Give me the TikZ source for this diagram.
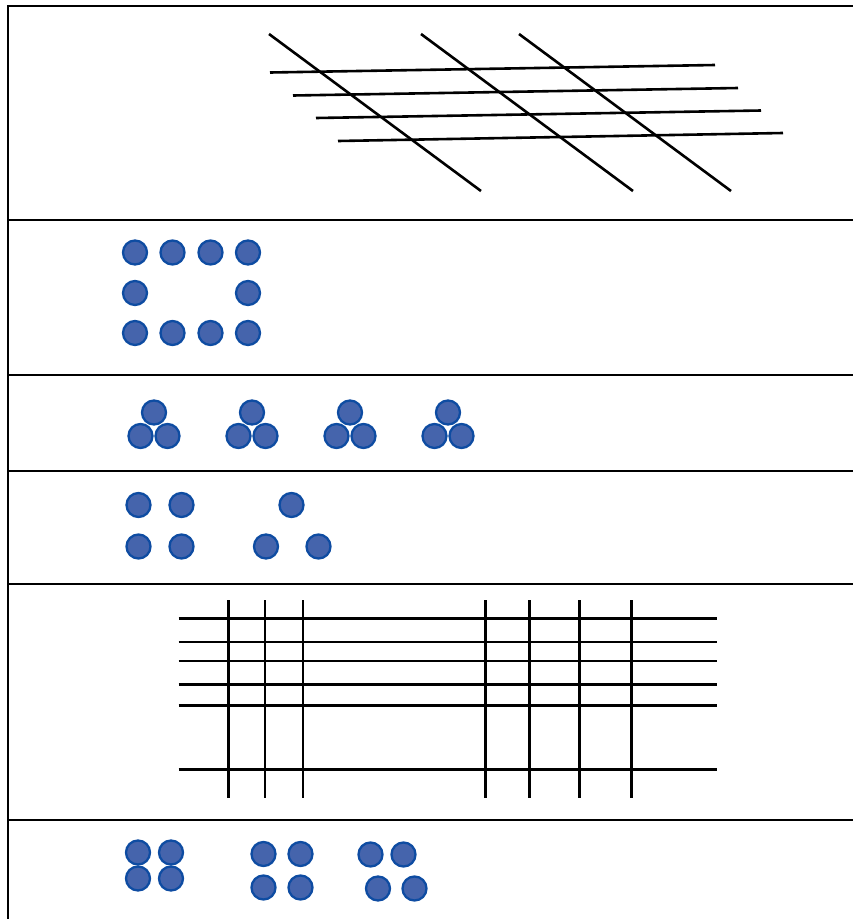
\documentclass[tikz,border=0pt]{standalone}
\usepackage{tikz}
\usetikzlibrary{positioning}
\usepackage{xcolor}
\definecolor{dotfill}{RGB}{69,100,172}
\definecolor{dotline}{RGB}{14,76,162}

\begin{document}
\begin{tikzpicture}[
        x=1pt, y=-1pt,
        frame/.style={line width=2.6pt, black},
        stroke/.style={line width=2.6pt, black},
        dot/.style={circle, draw=dotline, fill=dotfill, line width=2.3pt, minimum size=24pt, inner sep=0pt}
    ]
        \useasboundingbox (0,0) rectangle (853,919);

        % frame and bands
        \draw[frame] (8,919) -- (8,6) -- (853,6);
        \foreach \yy in {220,375,471,584,820}
            \draw[frame] (8,\yy) -- (853,\yy);

        % band 1: slanted grid
        \draw[stroke] (269,34) -- (481,191);
        \draw[stroke] (421,34) -- (633,191);
        \draw[stroke] (519,34) -- (731,191);
        \draw[stroke] (270,72.5) -- (715,65);
        \draw[stroke] (293,95.5) -- (738,88);
        \draw[stroke] (316,118) -- (761,110.5);
        \draw[stroke] (338,141) -- (783,133);

        % band 2: ring of dots
        \foreach \xx [count=\i] in {135,172.5,210.5,248} {
            \node[dot] (top\i) at (\xx,252.5) {};
            \node[dot] (bot\i) at (\xx,333) {};
        }
        \node[dot] (midl) at (135,293) {};
        \node[dot] (midr) at (248,293) {};

        % band 3: four little triangles
        \foreach \xx [count=\i] in {154,252,350,448} {
            \node[dot] (tri\i a) at (\xx,412.5) {};
            \node[dot] (tri\i b) at (\xx-13.5,436) {};
            \node[dot] (tri\i c) at (\xx+13.5,436) {};
        }

        % band 4: square and triangle
        \node[dot] (sqa) at (138.5,505) {};
        \node[dot] (sqb) at (181.5,505) {};
        \node[dot] (sqc) at (138.5,546.5) {};
        \node[dot] (sqd) at (181.5,546.5) {};
        \node[dot] (tra) at (291.5,505) {};
        \node[dot] (trb) at (266,546.5) {};
        \node[dot] (trc) at (318.5,546.5) {};

        % band 5: straight grid
        \foreach \xx in {228.5,265,303,485.5,529.5,579.5,631.5}
            \draw[stroke] (\xx,600) -- (\xx,798);
        \foreach \yy in {618.5,642,661,684.5,705.5,769.5}
            \draw[stroke] (178.5,\yy) -- (717,\yy);

        % band 6: three groups of four
        \node[dot] (ga1) at (138,852.5) {};
        \node[dot] (ga2) at (171,852.5) {};
        \node[dot] (ga3) at (138,878.5) {};
        \node[dot] (ga4) at (171,878.5) {};
        \node[dot] (gb1) at (263.5,854) {};
        \node[dot] (gb2) at (300.5,854) {};
        \node[dot] (gb3) at (263.5,887.5) {};
        \node[dot] (gb4) at (300.5,887.5) {};
        \node[dot] (gc1) at (370.5,854.5) {};
        \node[dot] (gc2) at (403.5,854.5) {};
        \node[dot] (gc3) at (378,888.5) {};
        \node[dot] (gc4) at (414.5,888.5) {};
    \end{tikzpicture}
\end{document}
